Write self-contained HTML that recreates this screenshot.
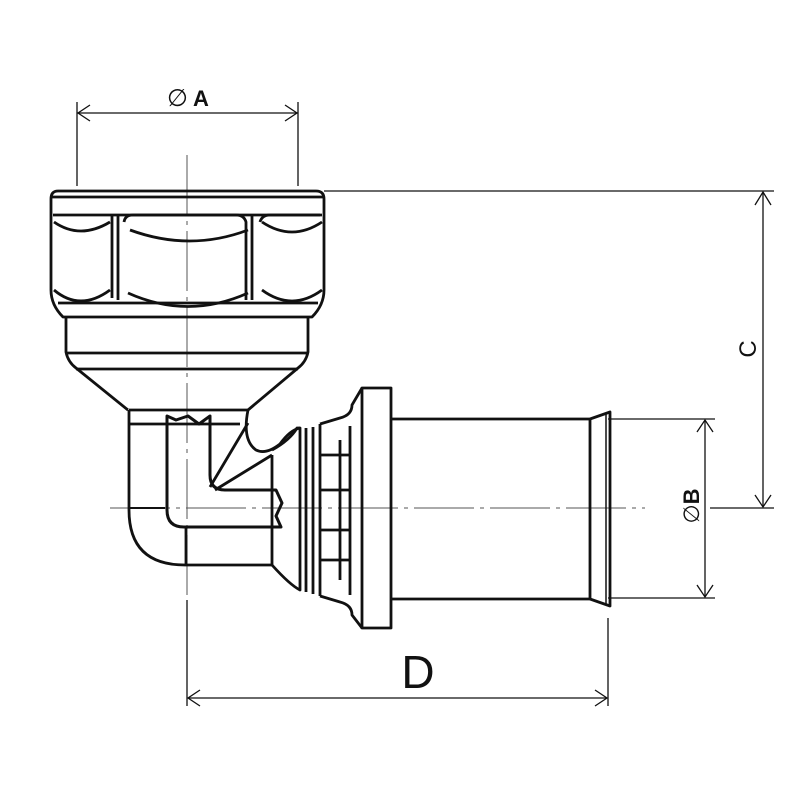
<!DOCTYPE html>
<html><head><style>html,body{margin:0;padding:0;background:#fff}svg{display:block}</style></head><body>
<svg width="800" height="800" viewBox="0 0 800 800" xmlns="http://www.w3.org/2000/svg" font-family="Liberation Sans, sans-serif">
<rect width="800" height="800" fill="#fff"/>
<g fill="none" stroke="#111" stroke-width="1.3">
<line x1="77" y1="102" x2="77" y2="186"/>
<line x1="298" y1="102" x2="298" y2="186"/>
<line x1="77" y1="113" x2="298" y2="113"/>
<path d="M90 105 L78 113 L90 121 M285 105 L297 113 L285 121"/>
<line x1="324" y1="191" x2="774" y2="191"/>
<line x1="710" y1="508" x2="774" y2="508"/>
<line x1="763" y1="192" x2="763" y2="507"/>
<path d="M755 205 L763 192 L771 205 M755 495 L763 507 L771 495"/>
<line x1="608" y1="419" x2="715" y2="419"/>
<line x1="608" y1="598" x2="715" y2="598"/>
<line x1="705" y1="420" x2="705" y2="597"/>
<path d="M697 432 L705 420 L713 432 M697 585 L705 597 L713 585"/>
<line x1="187" y1="600" x2="187" y2="706"/>
<line x1="608" y1="618" x2="608" y2="706"/>
<line x1="188" y1="698" x2="607" y2="698"/>
<path d="M200 690 L188 698 L200 706 M595 690 L607 698 L595 706"/>
</g>
<g stroke="#555" stroke-width="1" fill="none">
<line x1="187" y1="155" x2="187" y2="600" stroke-dasharray="60 6 4 6"/>
<line x1="110" y1="508" x2="645" y2="508" stroke-dasharray="60 6 4 6"/>
</g>
<text x="167" y="106" font-size="24" fill="#111">∅</text>
<text x="193" y="106" font-size="22" font-weight="bold" fill="#111">A</text>
<text x="418" y="688" font-size="46" fill="#111" text-anchor="middle">D</text>
<text transform="translate(756,349) rotate(-90)" font-size="24" fill="#111" text-anchor="middle">C</text>
<text transform="translate(699,506) rotate(-90)" font-size="22" fill="#111" text-anchor="middle">∅<tspan font-weight="bold">B</tspan></text>
<g fill="none" stroke="#111" stroke-width="2.8" stroke-linejoin="round">
<path d="M58 191 H316 Q324 191 324 199 V290 Q324 305 312 317 H63 Q51 305 51 290 V199 Q51 191 58 191 Z"/>
<line x1="52" y1="197" x2="323" y2="197"/>
<line x1="53" y1="215" x2="322" y2="215"/>
<path d="M54 222 Q80 240 110 222 M54 290 Q80 312 110 290 M112 215 V298"/>
<path d="M118 215 V300 M124 222 Q125 215 133 215 H236 Q244 215 246 222 V300"/>
<path d="M130 230 Q190 252 248 230 M128 293 Q188 320 248 293"/>
<path d="M252 215 V300 M260 222 Q262 215 270 215 H320 M262 222 Q292 242 322 222 M262 290 Q292 312 322 290"/>
<line x1="58" y1="303" x2="318" y2="303"/>
<path d="M66 317 V352 Q68 362 76 368 L128 410 M308 317 V352 Q306 362 298 368 L248 410"/>
<line x1="66" y1="353" x2="308" y2="353"/>
<line x1="76" y1="369" x2="298" y2="369"/>
<path d="M129 410 V510 Q129 565 185 565 H272"/>
<line x1="129" y1="410" x2="248" y2="410"/>
<line x1="129" y1="424" x2="240" y2="424"/>
<line x1="129" y1="508" x2="165" y2="508" stroke-width="2"/>
<path d="M186 528 V565 M272 455 V565"/>
<path d="M248 410 Q242 440 256 450 Q266 455 280 444 Q290 430 300 428"/>
<path d="M210 487 L248 423 M215 490 L272 455"/>
<path d="M167 416 V510 Q167 527 184 527 H281 L276 516 L282 503 L276 490 H225 Q210 490 210 475 V416 L199 424 L188 416 L176 420 Z" stroke-width="3"/>
<path d="M272 450 Q290 440 297 428 L300 428 V590 Q290 585 272 565"/>
<path d="M306 428 V592 M313 427 V594 M320 424 V596"/>
<path d="M320 424 L340 418 Q352 415 352 405 L362 388"/>
<path d="M320 596 L340 602 Q352 605 352 615 L362 628"/>
<path d="M320 455 H350 M320 490 H350 M320 530 H350 M320 560 H350"/>
<path d="M340 440 V580 M350 426 V595"/>
<path d="M362 388 H391 V628 H362 Z"/>
<path d="M391 419 H590 V599 H391"/>
<path d="M590 419 L610 412 V606 L590 599"/>
<line x1="606" y1="414" x2="606" y2="604" stroke-width="1.5"/>
</g>
</svg>
</body></html>
